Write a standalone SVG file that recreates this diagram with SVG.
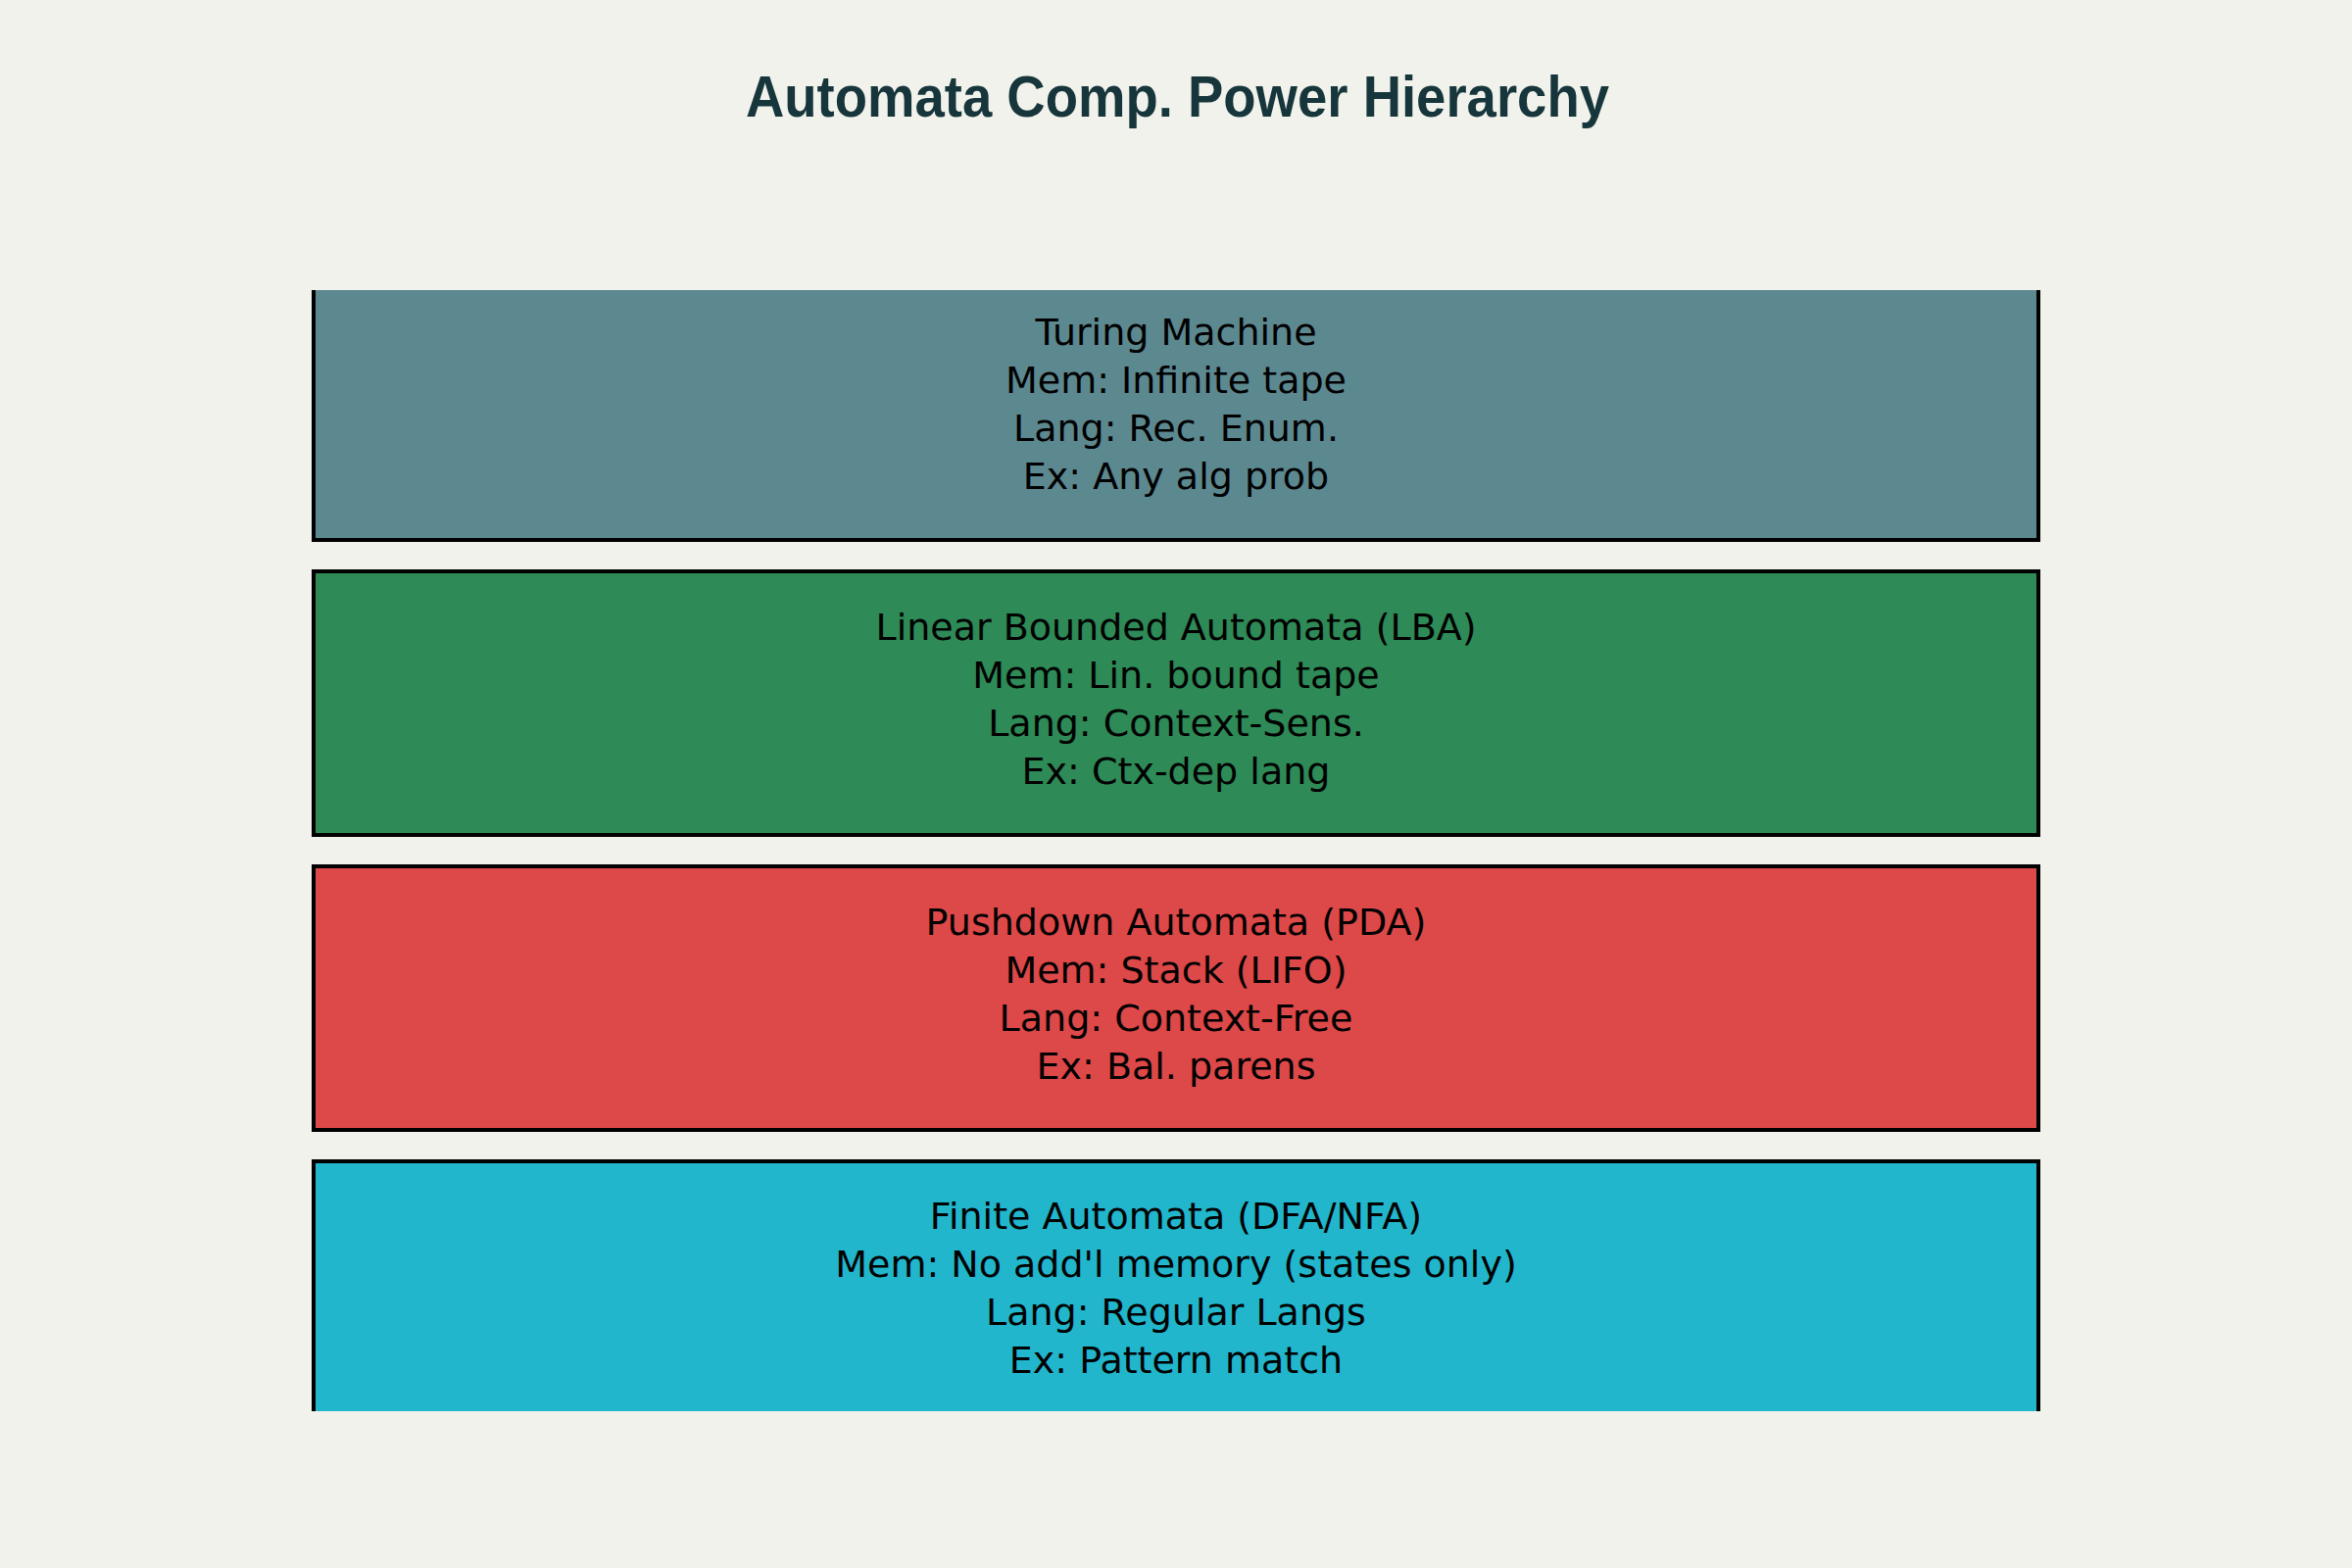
<svg xmlns="http://www.w3.org/2000/svg" width="2400" height="1600" viewBox="0 0 2400 1600">
  <style>
    .title { font-family: "Liberation Sans", Arial, sans-serif; font-weight: bold; font-size: 60px; fill: #17363c; }
    .box { stroke: #000000; stroke-width: 4; }
    .label { font-family: "DejaVu Sans", sans-serif; font-size: 38px; fill: #000000; text-anchor: middle; }
  </style>
  <defs>
    <clipPath id="plot-area">
      <rect x="0" y="296" width="2400" height="1144"/>
    </clipPath>
  </defs>
  <rect x="0" y="0" width="2400" height="1600" fill="#f2f2ec"/>
  <text class="title" x="761" y="119" textLength="881" lengthAdjust="spacingAndGlyphs">Automata Comp. Power Hierarchy</text>

  <g clip-path="url(#plot-area)">
    <g id="turing-machine">
      <rect class="box" x="320" y="282" width="1760" height="269" fill="#5c8890"/>
      <text class="label" x="1200" y="351.5">Turing Machine</text>
      <text class="label" x="1200" y="400.5">Mem: Infinite tape</text>
      <text class="label" x="1200" y="449.5">Lang: Rec. Enum.</text>
      <text class="label" x="1200" y="498.5">Ex: Any alg prob</text>
    </g>
    <g id="lba">
      <rect class="box" x="320" y="583" width="1760" height="269" fill="#2e8a56"/>
      <text class="label" x="1200" y="652.5">Linear Bounded Automata (LBA)</text>
      <text class="label" x="1200" y="701.5">Mem: Lin. bound tape</text>
      <text class="label" x="1200" y="750.5">Lang: Context-Sens.</text>
      <text class="label" x="1200" y="799.5">Ex: Ctx-dep lang</text>
    </g>
    <g id="pda">
      <rect class="box" x="320" y="884" width="1760" height="269" fill="#dd4848"/>
      <text class="label" x="1200" y="953.5">Pushdown Automata (PDA)</text>
      <text class="label" x="1200" y="1002.5">Mem: Stack (LIFO)</text>
      <text class="label" x="1200" y="1051.5">Lang: Context-Free</text>
      <text class="label" x="1200" y="1100.5">Ex: Bal. parens</text>
    </g>
    <g id="finite-automata">
      <rect class="box" x="320" y="1185" width="1760" height="269" fill="#21b6cc"/>
      <text class="label" x="1200" y="1253.5">Finite Automata (DFA/NFA)</text>
      <text class="label" x="1200" y="1302.5">Mem: No add'l memory (states only)</text>
      <text class="label" x="1200" y="1351.5">Lang: Regular Langs</text>
      <text class="label" x="1200" y="1400.5">Ex: Pattern match</text>
    </g>
  </g>
  <g id="connectors"/>
</svg>
